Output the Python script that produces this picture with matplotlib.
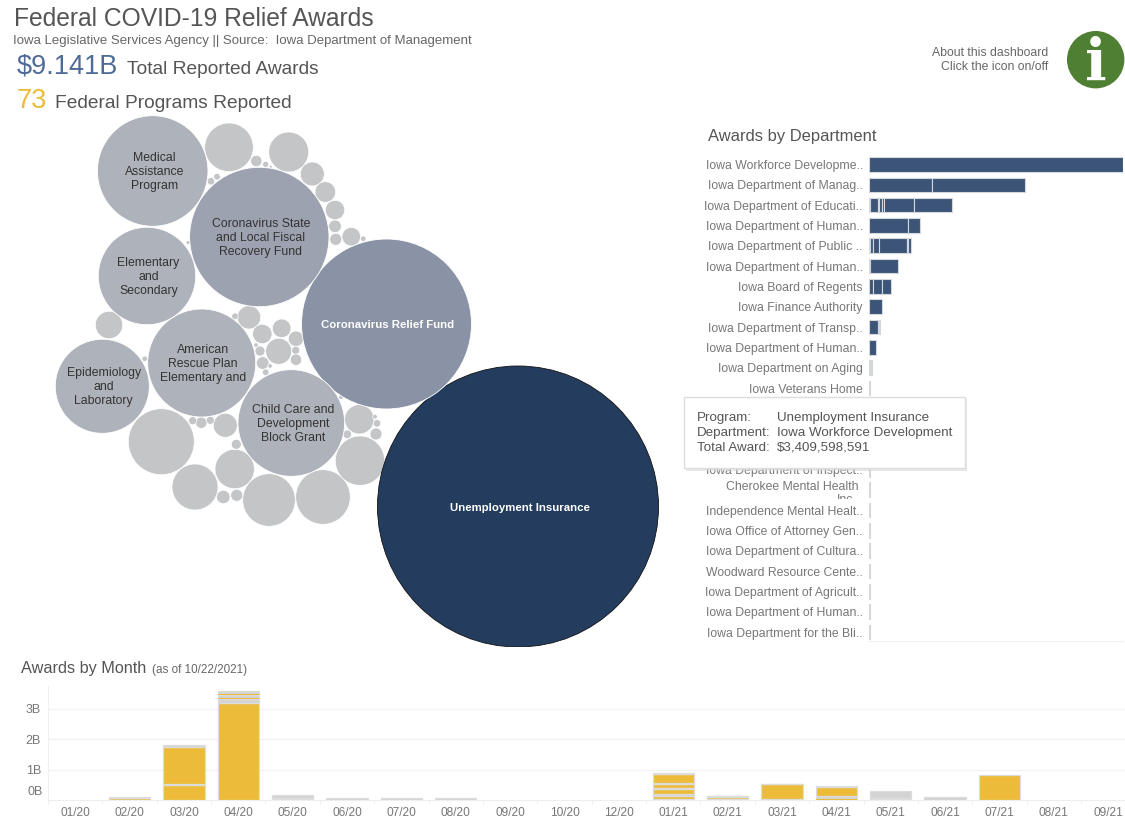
import numpy as np
import matplotlib
matplotlib.use("Agg")
import matplotlib.pyplot as plt
from matplotlib.patches import Circle, Rectangle

plt.rcParams['font.family'] = ['Liberation Sans', 'DejaVu Sans']

W, H = 1125, 821

# big program bubbles, awards in $B
big_names = ["Unemployment Insurance", "Coronavirus Relief Fund",
             "Coronavirus State\nand Local Fiscal\nRecovery Fund",
             "Medical\nAssistance\nProgram", "American\nRescue Plan\nElementary and",
             "Child Care and\nDevelopment\nBlock Grant", "Elementary\nand\nSecondary",
             "Epidemiology\nand\nLaboratory"]
big_awards = [3.41, 1.248, 0.839, 0.528, 0.504, 0.491, 0.410, 0.382]
big_x = [518, 386.5, 259.3, 152.7, 201.7, 291.3, 147, 102.3]
big_y = [506.5, 324, 237, 171, 363, 423, 276, 386.3]
big_colors = ["#243d5f", "#8a93a5", "#9ca2af", "#aeb2ba", "#aeb2ba", "#aeb2ba", "#aeb2ba", "#aeb2ba"]

# the unlabelled programs
small_awards = [.0324, .188, .0914, .0670, .1195, .1287, .1054, .0373, .0062, .0024, .0009, .0032,
                .0249, .0043, .0078, .0062, .0056, .0028, .0028, .0236, .0019, .0163, .0149, .0102,
                .0292, .0043, .0028, .0056, .0069, .0009, .0019, .0009, .0013, .0009,
                .102, .0691, .0249, .0183, .0163, .0069, .0062, .0149, .0013, .0056, .0016, .0004,
                .0019, .0024, .0007]
small_x = [109, 161.3, 195, 234.7, 269, 323, 360, 359.3, 376, 377, 375, 347.3,
           225.3, 236.3, 223.3, 236.7, 201.3, 192.7, 210.3, 249, 235, 262.3, 281.7, 296,
           278.7, 260, 295.7, 296, 262.7, 270, 265.7, 256, 144.7, 341,
           229, 288.7, 312.3, 325.3, 335, 335, 335.7, 351.3, 363.3, 256.3, 265.7, 270.7,
           217, 211, 188]
small_y = [325, 441.7, 487, 469, 500, 497, 460.7, 419.3, 434, 423.3, 416.7, 434.3,
           425.3, 444.3, 497, 495.3, 422.7, 420.7, 420.3, 317.3, 316.3, 334, 328.3, 338.7,
           351.3, 351, 350.3, 359.7, 363, 366, 372.3, 345, 358.7, 397.3,
           147.3, 152, 174, 192, 210, 226.3, 239.3, 236.7, 238.7, 161, 164.3, 166.7,
           176.7, 181.3, 242.7]

# departments, one list of program awards per row, $B
dept_names = ["Iowa Workforce Developme..", "Iowa Department of Manag..", "Iowa Department of Educati..",
              "Iowa Department of Human..", "Iowa Department of Public ..", "Iowa Department of Human..",
              "Iowa Board of Regents", "Iowa Finance Authority", "Iowa Department of Transp..",
              "Iowa Department of Human..", "Iowa Department on Aging", "Iowa Veterans Home",
              "", "", "", "Iowa Department of Inspect..", "", "Independence Mental Healt..",
              "Iowa Office of Attorney Gen..", "Iowa Department of Cultura..", "Woodward Resource Cente..",
              "Iowa Department of Agricult..", "Iowa Department of Human..", "Iowa Department for the Bli.."]
dept_awards = [[3.41], [0.84, 1.25], [0.02, 0.10, 0.02, 0.03, 0.03, 0.40, 0.52], [0.53, 0.15],
               [0.02, 0.03, 0.01, 0.07, 0.38, 0.02, 0.03], [0.02, 0.365], [0.06, 0.12, 0.11], [0.18],
               [0.125, 0.018], [0.09], [0.04], [0.02]] + [[0.008]] * 12

months = ["01/20", "02/20", "03/20", "04/20", "05/20", "06/20", "07/20", "08/20", "09/20", "10/20",
          "12/20", "01/21", "02/21", "03/21", "04/21", "05/21", "06/21", "07/21", "08/21", "09/21"]
# stacked from the bottom: (award in $B, True for the big gold programs)
month_stacks = [[], [(0.06, True), (0.05, False)], [(0.48, True), (0.06, False), (1.19, True), (0.09, False)],
                [(3.18, True), (0.13, False), (0.03, True), (0.12, False), (0.03, True), (0.09, False)],
                [(0.02, False), (0.06, True), (0.07, False)], [(0.05, False)], [(0.05, False)], [(0.05, False)],
                [], [], [],
                [(0.03, False), (0.09, True), (0.09, False), (0.14, True), (0.03, False), (0.13, True),
                 (0.05, False), (0.31, True), (0.02, False)],
                [(0.03, False), (0.06, True), (0.05, False)], [(0.04, False), (0.48, True), (0.02, False)],
                [(0.03, True), (0.09, False), (0.30, True), (0.05, False)],
                [(0.04, False), (0.04, True), (0.20, False)], [(0.09, False)], [(0.83, True)], [], []]
month_ticks = [1, 2, 3]
month_tick_labels = ["1B", "2B", "3B"]


def px_axes(left, top, right, bottom):
    return fig.add_axes([left / W, 1 - bottom / H, (right - left) / W, (bottom - top) / H])


fig = plt.figure(figsize=(W / 100, H / 100), dpi=100, facecolor="white")

# whole page in pixels for the headings
page = px_axes(0, 0, W, H)
page.set_xlim(0, W)
page.set_ylim(H, 0)
page.axis("off")

page.text(14, 19.5, "Federal COVID-19 Relief Awards", fontsize=17.75, color="#555555", va="center")
page.text(13, 41, "Iowa Legislative Services Agency || Source:  Iowa Department of Management",
          fontsize=9.55, color="#666666", va="center")
page.text(17, 66.5, "$9.141B", fontsize=19.5, color="#4e6a96", va="center")
page.text(127, 70, "Total Reported Awards", fontsize=13.8, color="#555555", va="center")
page.text(17, 100.5, "73", fontsize=19.5, color="#ecbb3a", va="center")
page.text(55, 104, "Federal Programs Reported", fontsize=13.8, color="#555555", va="center")
page.text(708, 137, "Awards by Department", fontsize=11.9, color="#555555", va="center")
page.text(21, 668.5, "Awards by Month", fontsize=11.7, color="#555555", va="center")
page.text(152, 669.5, "(as of 10/22/2021)", fontsize=8.4, color="#666666", va="center")
page.text(1048, 53, "About this dashboard", fontsize=8.8, color="#666666", va="center", ha="right")
page.text(1048, 67, "Click the icon on/off", fontsize=8.8, color="#666666", va="center", ha="right")
page.add_patch(Circle((1095.7, 59.7), 28, color="#4f7f32"))
page.text(1095.7, 64, "i", fontsize=41, color="white", family="DejaVu Serif", fontweight="bold",
          ha="center", va="center")

# bubbles, area follows the award
bub = px_axes(0, 110, 680, 647)
bub.set_xlim(0, 680)
bub.set_ylim(647, 110)
bub.axis("off")
scale = 140.5 / np.sqrt(big_awards[0])
for a, x, y in zip(small_awards, small_x, small_y):
    bub.add_patch(Circle((x, y), scale * np.sqrt(a), fc="#c3c5c7", ec="white", lw=0.5))
for i in range(len(big_names)):
    ec = "#111111" if i == 0 else "white"
    bub.add_patch(Circle((big_x[i], big_y[i]), scale * np.sqrt(big_awards[i]), fc=big_colors[i], ec=ec, lw=0.6))
    white = i < 2
    bub.text(big_x[i] + 1.5, big_y[i] + 1, big_names[i], fontsize=8.2 if white else 8.8, ha="center", va="center",
             color="white" if white else "#333333", fontweight="bold" if white else "normal",
             linespacing=1.24)

# awards by department
dept = px_axes(869, 154, 1123, 641)
for row, segs in enumerate(dept_awards):
    left = 0
    for v in segs:
        face = "#d2d5d9" if (v < 0.025 or row >= 10) else "#3b5478"
        dept.barh(row, v, left=left, height=0.72, color=face, edgecolor="#d4d7db", linewidth=0.8)
        left += v
dept.set_xlim(0, 3.41)
dept.set_ylim(23.44, -0.516)
dept.set_xticks([])
dept.set_yticks(range(len(dept_names)))
dept.set_yticklabels(dept_names, fontsize=8.8, color="#777777")
dept.tick_params(axis="y", length=0, pad=4.5)
for s in ["top", "right", "left"]:
    dept.spines[s].set_visible(False)
dept.spines["bottom"].set_color("#f0f0f0")

# this one wraps and gets cut by its row
cut = Rectangle((700, 479), 165, 20, transform=page.transData)
cherokee1 = page.text(859, 487, "Cherokee Mental Health", fontsize=8.8, color="#777777", ha="right", va="center")
cherokee2 = page.text(847, 500, "Inc.", fontsize=8.8, color="#777777", ha="center", va="center")
cherokee1.set_clip_path(cut)
cherokee2.set_clip_path(cut)
cherokee1.set_clip_on(True)
cherokee2.set_clip_on(True)

# awards by month
ax = px_axes(48, 686, W, 800)
pos = np.arange(len(months))
for i, stack in enumerate(month_stacks):
    bottom = 0
    for v, gold in stack:
        thin = gold and v <= 0.03
        ax.bar(pos[i], v, bottom=bottom, width=0.76, color="#ecbb3a" if gold else "#d3d3d3",
               edgecolor="none" if thin else "#dcdcdc", linewidth=0.9, zorder=4 if thin else 3)
        bottom += v
ax.set_xlim(-0.5, (W - 48) / 54.37 - 0.5)
ax.set_ylim(0, 114 / 30.4)
ax.set_xticks(pos)
ax.set_xticklabels(months, fontsize=8.6, color="#777777")
ax.tick_params(axis="x", which="major", length=0, pad=5)
ax.set_xticks(pos - 0.5, minor=True)
ax.tick_params(axis="x", which="minor", length=3, color="#eeeeee")
ax.set_yticks(month_ticks)
ax.set_yticklabels(month_tick_labels, fontsize=9, color="#777777")
ax.tick_params(axis="y", length=0, pad=5)
ax.grid(axis="y", color="#f2f2f2", linewidth=1, zorder=0)
for s in ["top", "right"]:
    ax.spines[s].set_visible(False)
ax.spines["left"].set_color("#f0f0f0")
ax.spines["bottom"].set_color("#eeeeee")
ax.set_axisbelow(True)
page.text(42.5, 792, "0B", fontsize=9, color="#777777", ha="right", va="center")

# hover box on top of everything
top = px_axes(0, 0, W, H)
top.set_xlim(0, W)
top.set_ylim(H, 0)
top.axis("off")
top.set_zorder(10)
top.add_patch(Rectangle((686, 399), 281, 72, fc="#d8d8d8", ec="none", alpha=0.6))
top.add_patch(Rectangle((684, 397), 281, 71.5, fc="white", ec="#dddddd", lw=1))
tip_heads = ["Program:", "Department:", "Total Award:"]
tip_vals = ["Unemployment Insurance", "Iowa Workforce Development", "$3,409,598,591"]
for k in range(3):
    top.text(697, 418 + 15 * k, tip_heads[k], fontsize=9.6, color="#555555", va="center")
    top.text(777, 418 + 15 * k, tip_vals[k], fontsize=9.6, color="#555555", va="center")

fig.savefig("out.png", dpi=100)
